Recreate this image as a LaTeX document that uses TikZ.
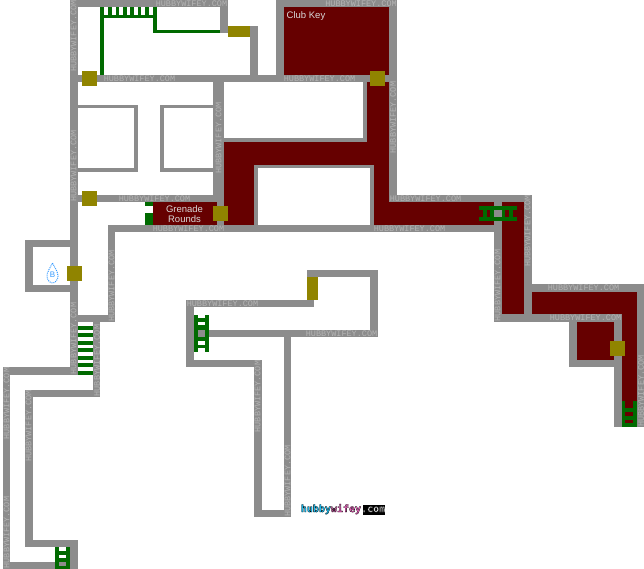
\documentclass[tikz,border=0pt]{standalone}
\usepackage{fontspec}
\setmainfont{Liberation Sans}
\newfontfamily\markfont{Liberation Mono}
\newfontfamily\logofont{DejaVu Sans Mono}
\usetikzlibrary{positioning}
\definecolor{wallgray}{HTML}{8C8C8C}
\definecolor{markgray}{HTML}{B4B4B4}
\definecolor{bloodred}{HTML}{660000}
\definecolor{doorolive}{HTML}{908400}
\definecolor{laddergreen}{HTML}{006A00}
\definecolor{saveblue}{HTML}{3399FF}
\definecolor{logocyan}{HTML}{19C8FF}
\definecolor{logopink}{HTML}{FF66CC}
\newcommand\inkon[1]{\special{pdf:code 0 0 0 RG 2 Tr 0.3 w}#1\special{pdf:code 0 Tr}}
\tikzstyle{wall}=[fill=wallgray]
\tikzstyle{danger}=[fill=bloodred]
\tikzstyle{green}=[fill=laddergreen]
\tikzstyle{door}=[rectangle,fill=doorolive,inner sep=0mm,minimum size=15pt]
\tikzstyle{wmark}=[text=markgray,inner sep=0mm,font=\markfont\fontsize{8.5}{8.5}\selectfont]
\tikzstyle{label}=[text=white!85!black,inner sep=0mm,font=\fontsize{9.5}{9.5}\selectfont]
\tikzset{every picture/.style={
    x=1pt,y=-1pt
  }
}
\begin{document}
\begin{tikzpicture}
        \useasboundingbox (0,0) rectangle (644,569);
        \fill[danger] (284,7) rectangle (389,75);
        \fill[danger] (367,75) rectangle (389,165);
        \fill[danger] (224,142) rectangle (389,165);
        \fill[danger] (224,142) rectangle (254,225);
        \fill[danger] (374,165) rectangle (389,225);
        \fill[danger] (374,202) rectangle (494,225);
        \fill[danger] (153,202) rectangle (217,225);
        \fill[danger] (502,202) rectangle (524,315);
        \fill[danger] (532,292) rectangle (637,314);
        \fill[danger] (622,292) rectangle (637,427);
        \fill[danger] (577,322) rectangle (614,360);
        \fill[wall] (70,0) rectangle (228,7);
        \fill[wall] (70,0) rectangle (78,375);
        \fill[wall] (220,0) rectangle (228,33);
        \fill[wall] (250,26) rectangle (258,75);
        \fill[wall] (276,0) rectangle (397,7);
        \fill[wall] (276,0) rectangle (284,75);
        \fill[wall] (389,0) rectangle (397,202);
        \fill[wall] (70,75) rectangle (397,82);
        \fill[wall] (213,82) rectangle (224,202);
        \fill[wall] (217,202) rectangle (224,232);
        \fill[wall] (78,105) rectangle (138,108);
        \fill[wall] (134,105) rectangle (138,172);
        \fill[wall] (78,168) rectangle (138,172);
        \fill[wall] (160,105) rectangle (213,108);
        \fill[wall] (160,105) rectangle (164,172);
        \fill[wall] (160,168) rectangle (213,172);
        \fill[wall] (78,195) rectangle (224,202);
        \fill[wall] (224,138) rectangle (367,142);
        \fill[wall] (363,82) rectangle (367,142);
        \fill[wall] (254,165) rectangle (374,168);
        \fill[wall] (254,165) rectangle (258,225);
        \fill[wall] (370,165) rectangle (374,225);
        \fill[wall] (389,195) rectangle (532,202);
        \fill[wall] (108,225) rectangle (502,232);
        \fill[wall] (494,195) rectangle (502,322);
        \fill[wall] (524,195) rectangle (532,292);
        \fill[wall] (524,284) rectangle (644,292);
        \fill[wall] (524,292) rectangle (532,322);
        \fill[wall] (637,284) rectangle (644,427);
        \fill[wall] (494,314) rectangle (622,322);
        \fill[wall] (614,314) rectangle (622,427);
        \fill[wall] (569,322) rectangle (577,367);
        \fill[wall] (569,360) rectangle (614,367);
        \fill[wall] (108,225) rectangle (115,322);
        \fill[wall] (78,315) rectangle (115,322);
        \fill[wall] (93,322) rectangle (100,397);
        \fill[wall] (25,240) rectangle (70,247);
        \fill[wall] (25,240) rectangle (33,292);
        \fill[wall] (25,285) rectangle (70,292);
        \fill[wall] (3,367) rectangle (70,375);
        \fill[wall] (3,367) rectangle (10,569);
        \fill[wall] (25,390) rectangle (100,397);
        \fill[wall] (25,390) rectangle (33,547);
        \fill[wall] (25,540) rectangle (78,547);
        \fill[wall] (70,540) rectangle (78,569);
        \fill[wall] (3,562) rectangle (78,569);
        \fill[wall] (307,270) rectangle (378,277);
        \fill[wall] (370,270) rectangle (378,337);
        \fill[wall] (186,300) rectangle (314,307);
        \fill[wall] (186,300) rectangle (194,367);
        \fill[wall] (186,360) rectangle (262,367);
        \fill[wall] (194,330) rectangle (378,337);
        \fill[wall] (254,360) rectangle (262,517);
        \fill[wall] (254,510) rectangle (291,517);
        \fill[wall] (284,337) rectangle (291,517);
        \node[door] at (89.5,78.5) (doorhall) {};
        \node[door] at (89.5,198.5) (doorlobby) {};
        \node[door] at (220.5,213.5) (doorgrenade) {};
        \node[door] at (377.5,78.5) (doorclub) {};
        \node[door] at (74.5,273.5) (doorsave) {};
        \node[door] at (617.5,348.5) (doorcloset) {};
        \node[door,minimum width=22pt,minimum height=11pt] at (239,31.5) (doorstair) {};
        \node[door,minimum width=11pt,minimum height=23pt] at (312.5,288.5) (doorupper) {};
        \fill[green] (100,7) rectangle (104,75);
        \fill[green] (100,15) rectangle (157,18);
        \fill[green] (153,7) rectangle (157,33);
        \fill[green] (153,30) rectangle (220,33);
        \foreach \xa/\xb in {108/112,116/119,123/127,130/134,138/141,145/149}
          \fill[green] (\xa,7) rectangle (\xb,15);
        \foreach \ya/\yb in {326/330,333/337,341/345,348/352,356/360,363/367,371/375}
          \fill[green] (78,\ya) rectangle (93,\yb);
        \fill[green] (145,202) rectangle (153,206);
        \fill[green] (145,213) rectangle (153,225);
        \fill[green] (479,206) rectangle (517,210);
        \fill[green] (479,217) rectangle (517,221);
        \foreach \xa/\xb in {483/487,490/494,502/505,509/513}
          \fill[green] (\xa,206) rectangle (\xb,221);
        \fill[green] (194,315) rectangle (198,352);
        \fill[green] (205,315) rectangle (209,352);
        \foreach \ya/\yb in {318/322,325/330,337/341,345/348}
          \fill[green] (194,\ya) rectangle (209,\yb);
        \fill[green] (622,401) rectangle (625,427);
        \fill[green] (633,401) rectangle (637,427);
        \foreach \ya/\yb in {408/412,416/420,423/427}
          \fill[green] (622,\ya) rectangle (637,\yb);
        \fill[green] (55,547) rectangle (59,569);
        \fill[green] (66,547) rectangle (70,569);
        \foreach \ya/\yb in {551/555,558/562,566/569}
          \fill[green] (55,\ya) rectangle (70,\yb);
        \foreach \x/\y [count=\i] in {191.5/3.5,139.5/78.5,154.5/198.5,188.5/228.5,361/3.5,319.5/78.5,425.5/198.5,409.5/228.5,583.5/288,585.5/318,222.5/303.5,341.5/333.5}
          \node[wmark] at (\x,\y) (markh\i) {HUBBYWIFEY.COM};
        \foreach \x/\y [count=\i] in {73.5/36,73.5/166,218.5/138,393/117.5,527.5/231,497.5/285.5,641/391,111.5/286,73.5/338.5,97/360.5,6.5/403.5,6.5/532.5,28.5/426,257.5/396.5,287.5/481}
          \node[wmark,rotate=90] at (\x,\y) (markv\i) {HUBBYWIFEY.COM};
        \node[label] at (306,16) (clubkey) {Club Key};
        \node[label] at (184.5,209) (grenade) {Grenade};
        \node[label] at (184.5,219) (rounds) {Rounds};
        \draw[saveblue,densely dotted,line width=1] (52.5,263) .. controls (55,268) and (58,272) .. (58,276) .. controls (58,280) and (55,283) .. (52.5,283) .. controls (50,283) and (47,280) .. (47,276) .. controls (47,272) and (50,268) .. (52.5,263);
        \node[text=saveblue,inner sep=0mm,font=\fontsize{8}{8}\selectfont] at (52.5,274.5) (savemark) {B};
        \fill[black] (363,505) rectangle (385,515);
        \node[inner sep=0mm,font=\logofont\bfseries\fontsize{10}{10}\selectfont] at (343,509) (logo) {\textcolor{logocyan}{\inkon{hubby}}\textcolor{logopink}{\inkon{wifey}}\textcolor{white}{\inkon{.com}}};
      \end{tikzpicture}
\end{document}
